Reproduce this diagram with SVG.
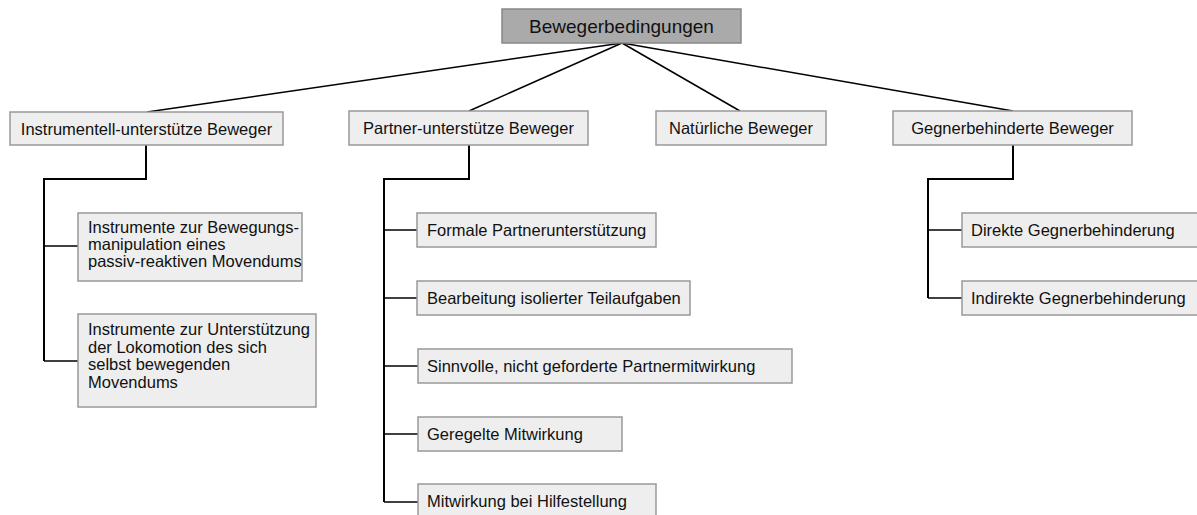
<svg xmlns="http://www.w3.org/2000/svg" width="1197" height="515" viewBox="0 0 1197 515">
  <style>
    .box { fill: #eeeeee; stroke: #999999; stroke-width: 1.5; }
    .root { fill: #aaaaaa; stroke: #888888; stroke-width: 1.5; }
    .lbl { font-family: "Liberation Sans", Arial, sans-serif; font-size: 16.5px; fill: #111111; }
    .mid { text-anchor: middle; }
    .edge { fill: none; stroke: #000000; stroke-width: 1.5; }
    .elbow { fill: none; stroke: #000000; stroke-width: 2; }
  </style>
  <rect width="1197" height="515" fill="#ffffff"/>

  <g id="connectors">
    <!-- root to categories -->
    <line class="edge" x1="622" y1="43" x2="147" y2="112"/>
    <line class="edge" x1="622" y1="43" x2="469" y2="111"/>
    <line class="edge" x1="622" y1="43" x2="740" y2="111"/>
    <line class="edge" x1="622" y1="43" x2="1013" y2="111"/>
    <!-- Instrumentell subtree -->
    <polyline class="elbow" points="146,145 146,179 44,179 44,361"/>
    <line class="edge" x1="44" y1="246" x2="78" y2="246"/>
    <line class="edge" x1="44" y1="361" x2="78" y2="361"/>
    <!-- Partner subtree -->
    <polyline class="elbow" points="469,145 469,179 384,179 384,502"/>
    <line class="edge" x1="384" y1="230" x2="417" y2="230"/>
    <line class="edge" x1="384" y1="298" x2="417" y2="298"/>
    <line class="edge" x1="384" y1="366" x2="418" y2="366"/>
    <line class="edge" x1="384" y1="434" x2="418" y2="434"/>
    <line class="edge" x1="384" y1="502" x2="418" y2="502"/>
    <!-- Gegner subtree -->
    <polyline class="elbow" points="1013,145 1013,179 928,179 928,298"/>
    <line class="edge" x1="928" y1="230" x2="962" y2="230"/>
    <line class="edge" x1="928" y1="298" x2="962" y2="298"/>
  </g>

  <g id="root">
    <rect class="root" x="502" y="9" width="239" height="34"/>
    <text class="lbl mid" x="621.5" y="33" style="font-size:19px">Bewegerbedingungen</text>
  </g>

  <g id="instrumentell">
    <rect class="box" x="10" y="112" width="273" height="33"/>
    <text class="lbl mid" x="146.5" y="134.5">Instrumentell-unterstütze Beweger</text>
  </g>
  <g id="instr-1">
    <rect class="box" x="78" y="213" width="224" height="68"/>
    <text class="lbl" x="88" y="233">Instrumente zur Bewegungs-</text>
    <text class="lbl" x="88" y="250">manipulation eines</text>
    <text class="lbl" x="88" y="267">passiv-reaktiven Movendums</text>
  </g>
  <g id="instr-2">
    <rect class="box" x="78" y="314" width="238" height="93"/>
    <text class="lbl" x="88" y="335">Instrumente zur Unterstützung</text>
    <text class="lbl" x="88" y="352.5">der Lokomotion des sich</text>
    <text class="lbl" x="88" y="370">selbst bewegenden</text>
    <text class="lbl" x="88" y="387.5">Movendums</text>
  </g>

  <g id="partner">
    <rect class="box" x="349" y="111" width="239" height="34"/>
    <text class="lbl mid" x="468.5" y="134">Partner-unterstütze Beweger</text>
  </g>
  <g id="partner-1">
    <rect class="box" x="417" y="213" width="239" height="34"/>
    <text class="lbl" x="427" y="236">Formale Partnerunterstützung</text>
  </g>
  <g id="partner-2">
    <rect class="box" x="417" y="281" width="273" height="34"/>
    <text class="lbl" x="427" y="304">Bearbeitung isolierter Teilaufgaben</text>
  </g>
  <g id="partner-3">
    <rect class="box" x="418" y="349" width="374" height="34"/>
    <text class="lbl" x="427" y="372">Sinnvolle, nicht geforderte Partnermitwirkung</text>
  </g>
  <g id="partner-4">
    <rect class="box" x="418" y="417" width="204" height="34"/>
    <text class="lbl" x="427" y="440">Geregelte Mitwirkung</text>
  </g>
  <g id="partner-5">
    <rect class="box" x="418" y="484" width="238" height="34"/>
    <text class="lbl" x="427" y="507">Mitwirkung bei Hilfestellung</text>
  </g>

  <g id="natuerlich">
    <rect class="box" x="656" y="111" width="170" height="34"/>
    <text class="lbl mid" x="741" y="134">Natürliche Beweger</text>
  </g>

  <g id="gegner">
    <rect class="box" x="893" y="111" width="239" height="34"/>
    <text class="lbl mid" x="1012.5" y="134">Gegnerbehinderte Beweger</text>
  </g>
  <g id="gegner-1">
    <rect class="box" x="962" y="213" width="250" height="34"/>
    <text class="lbl" x="971" y="236">Direkte Gegnerbehinderung</text>
  </g>
  <g id="gegner-2">
    <rect class="box" x="962" y="281" width="250" height="34"/>
    <text class="lbl" x="971" y="304">Indirekte Gegnerbehinderung</text>
  </g>
</svg>
